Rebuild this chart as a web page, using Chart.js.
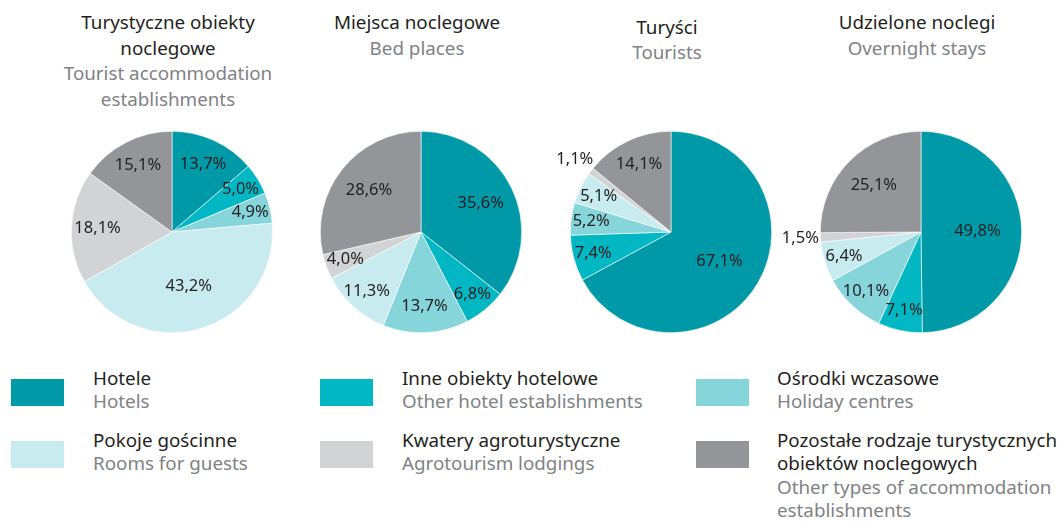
<!DOCTYPE html>
<html><head><meta charset="utf-8">
<script src="https://cdn.jsdelivr.net/npm/chart.js@4"></script>
<style>
html,body{margin:0;padding:0;background:#fff;}
#wrap{position:relative;width:1062px;height:524px;overflow:hidden;font-family:"Noto Sans",sans-serif;}
.title{position:absolute;width:300px;text-align:center;font-size:18.8px;line-height:25.5px;color:#231f20;}
.en{color:#808285;}
canvas{position:absolute;}
.sw{position:absolute;width:53px;height:27px;}
.lt{position:absolute;font-size:18.8px;line-height:23.5px;color:#231f20;white-space:nowrap;}
</style></head>
<body><div id="wrap"></div>
<script>
// ---- data ----
const categoriesPl = ["Hotele","Inne obiekty hotelowe","Ośrodki wczasowe","Pokoje gościnne","Kwatery agroturystyczne","Pozostałe rodzaje turystycznych|obiektów noclegowych"];
const categoriesEn = ["Hotels","Other hotel establishments","Holiday centres","Rooms for guests","Agrotourism lodgings","Other types of accommodation|establishments"];
const colors = ["#0099a8","#00b7c3","#86d5db","#c8ebef","#d1d3d4","#939598"];
const establishments = [13.7,5.0,4.9,43.2,18.1,15.1];
const bedPlaces = [35.6,6.8,13.7,11.3,4.0,28.6];
const tourists = [67.1,7.4,5.2,5.1,1.1,14.1];
const overnightStays = [49.8,7.1,10.1,6.4,1.5,25.1];
const titlesPl = ["Turystyczne obiekty|noclegowe","Miejsca noclegowe","Turyści","Udzielone noclegi"];
const titlesEn = ["Tourist accommodation|establishments","Bed places","Tourists","Overnight stays"];
const seriesList = [establishments,bedPlaces,tourists,overnightStays];

// ---- layout ----
const wrap = document.getElementById('wrap');
const centersX = [172,421,671,921];
const centerY = 232;
const titleTops = [10.4,10.4,14.8,10.4];

function fmt(v){ return v.toFixed(1).replace('.',',') + '%'; }

const labelPlugin = {
  id:'sliceLabels',
  afterDatasetsDraw(chart){
    const ctx = chart.ctx;
    const meta = chart.getDatasetMeta(0);
    const data = chart.data.datasets[0].data;
    ctx.save();
    ctx.font = '16.5px "Noto Sans"';
    ctx.fillStyle = '#231f20';
    ctx.textAlign = 'center';
    ctx.textBaseline = 'middle';
    meta.data.forEach((arc,i)=>{
      const v = data[i];
      const p = arc.getProps(['x','y','startAngle','endAngle','outerRadius'], true);
      const mid = (p.startAngle + p.endAngle)/2;
      const f = v < 2 ? 1.2 : v > 40 ? 0.56 : v >= 20 ? 0.66 : v >= 12 ? 0.74 : 0.8;
      ctx.fillText(fmt(v), p.x + Math.cos(mid)*p.outerRadius*f, p.y + Math.sin(mid)*p.outerRadius*f);
    });
    ctx.restore();
  }
};

seriesList.forEach((series, k)=>{
  const t = document.createElement('div');
  t.className = 'title';
  t.style.left = (centersX[k] - 154) + 'px';
  t.style.top = titleTops[k] + 'px';
  t.innerHTML = titlesPl[k].split('|').join('<br>') + '<br><span class="en">' + titlesEn[k].split('|').join('<br>') + '</span>';
  wrap.appendChild(t);

  const c = document.createElement('canvas');
  c.width = 300; c.height = 240;
  c.style.left = (centersX[k] - 150) + 'px';
  c.style.top = (centerY - 120) + 'px';
  wrap.appendChild(c);
  new Chart(c, {
    type:'pie',
    data:{ labels: categoriesEn.map(s=>s.replace('|',' ')), datasets:[{ data: series, backgroundColor: colors, borderColor:'#ffffff', borderWidth:0.6, hoverOffset:0 }] },
    options:{
      responsive:false, animation:false,
      layout:{ padding:{ left:49, right:49, top:19, bottom:19 } },
      plugins:{ legend:{display:false}, tooltip:{enabled:false}, title:{display:false} }
    },
    plugins:[labelPlugin]
  });
});

// ---- legend ----
const legCols = [ {sw:11, tx:93}, {sw:320, tx:402}, {sw:696, tx:777} ];
const legRows = [ {sw:379, tx:366.5}, {sw:441, tx:428.8} ];
categoriesPl.forEach((name,i)=>{
  const col = legCols[i % 3], row = legRows[Math.floor(i/3)];
  const s = document.createElement('div');
  s.className = 'sw';
  s.style.left = col.sw + 'px'; s.style.top = row.sw + 'px'; s.style.background = colors[i];
  wrap.appendChild(s);
  const l = document.createElement('div');
  l.className = 'lt';
  l.style.left = col.tx + 'px'; l.style.top = row.tx + 'px';
  l.innerHTML = name.split('|').join('<br>') + '<br><span class="en">' + categoriesEn[i].split('|').join('<br>') + '</span>';
  wrap.appendChild(l);
});
</script>
</body></html>
